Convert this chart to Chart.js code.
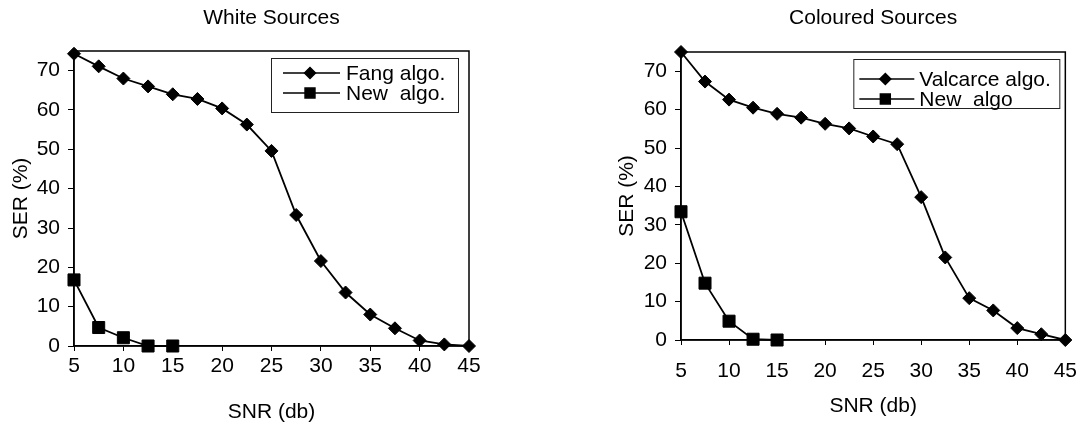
<!DOCTYPE html>
<html>
<head>
<meta charset="utf-8">
<script src="https://cdn.jsdelivr.net/npm/chart.js@4/dist/chart.umd.min.js"></script>
<style>
  html, body { margin: 0; padding: 0; background: #fff; }
  body { width: 1091px; height: 426px; position: relative; overflow: hidden; }
  .wrap { position: absolute; top: 0; height: 426px; }
  #w1 { left: 0; width: 545px; }
  #w2 { left: 560px; width: 531px; }
</style>
</head>
<body>
<div class="wrap" id="w1"><canvas id="c1"></canvas></div>
<div class="wrap" id="w2"><canvas id="c2"></canvas></div>
<script>
// ---- data ----
const snr = [5, 7.5, 10, 12.5, 15, 17.5, 20, 22.5, 25, 27.5, 30, 32.5, 35, 37.5, 40, 42.5, 45];
const snrNew = [5, 7.5, 10, 12.5, 15];
const whiteFang = [74.3, 71.1, 68.0, 66.0, 64.0, 62.8, 60.4, 56.3, 49.6, 33.3, 21.6, 13.6, 8.0, 4.5, 1.4, 0.4, 0];
const whiteNew = [16.8, 4.7, 2.1, 0, 0];
const colouredValcarce = [75, 67.3, 62.6, 60.5, 58.9, 57.9, 56.3, 55.1, 53.0, 51.0, 37.2, 21.5, 10.9, 7.7, 3.1, 1.5, 0];
const colouredNew = [33.4, 14.8, 4.9, 0.2, 0];
const xTicks = [5, 10, 15, 20, 25, 30, 35, 40, 45];
const yTicks = [0, 10, 20, 30, 40, 50, 60, 70];
const titles = ['White Sources', 'Coloured Sources'];
const labelsWhite = ['Fang algo.', 'New  algo.'];
const labelsColoured = ['Valcarce algo.', 'New  algo'];

Chart.defaults.font.family = "'Liberation Sans', Arial, sans-serif";
Chart.defaults.color = '#000';

const FONT = 21;

function pts(xs, ys) { return xs.map((x, i) => ({ x: x, y: ys[i] })); }

// box around the plot area + boxed legend inside it
const framePlugin = {
  id: 'frame',
  afterDatasetsDraw(chart, args, opts) {
    const ctx = chart.ctx, a = chart.chartArea;
    ctx.save();
    ctx.strokeStyle = '#000';
    ctx.lineWidth = 1.5;
    ctx.strokeRect(a.left, a.top, a.right - a.left, a.bottom - a.top);
    // legend
    const L = opts.legend;
    const bx = a.right - L.right - L.width, by = a.top + L.top;
    ctx.fillStyle = '#fff';
    ctx.fillRect(bx, by, L.width, L.height);
    ctx.strokeStyle = '#222';
    ctx.lineWidth = 1;
    ctx.strokeRect(bx + 0.5, by + 0.5, L.width, L.height);
    chart.data.datasets.forEach((ds, i) => {
      const y = by + L.rows[i];
      ctx.strokeStyle = '#000';
      ctx.lineWidth = 1.5;
      ctx.beginPath();
      ctx.moveTo(bx + L.lineFrom, y);
      ctx.lineTo(bx + L.lineTo, y);
      ctx.stroke();
      ctx.fillStyle = '#000';
      Chart.helpers.drawPoint(ctx, {
        pointStyle: ds.pointStyle,
        radius: ds.pointStyle === 'rect' ? 7 : 5.5,
        borderWidth: 1,
        rotation: 0
      }, bx + L.marker, y);
      ctx.fillStyle = '#000';
      ctx.font = FONT + "px 'Liberation Sans', Arial, sans-serif";
      ctx.textBaseline = 'middle';
      ctx.textAlign = 'left';
      ctx.fillText(ds.label, bx + L.text, y + 1);
    });
    ctx.restore();
  }
};

function makeChart(id, title, labels, s1, s2, g) {
  return new Chart(document.getElementById(id), {
    type: 'line',
    data: {
      datasets: [
        { label: labels[0], data: pts(snr, s1), pointStyle: 'rectRot', pointRadius: 6.5,
          borderColor: '#000', backgroundColor: '#000', pointBackgroundColor: '#000',
          pointBorderColor: '#000', borderWidth: 1.8, pointBorderWidth: 1, tension: 0, clip: false },
        { label: labels[1], data: pts(snrNew, s2), pointStyle: 'rect', pointRadius: 8.5,
          borderColor: '#000', backgroundColor: '#000', pointBackgroundColor: '#000',
          pointBorderColor: '#000', borderWidth: 1.8, pointBorderWidth: 1, tension: 0, clip: false }
      ]
    },
    options: {
      responsive: true,
      maintainAspectRatio: false,
      animation: false,
      events: [],
      layout: { padding: { left: 0, right: g.padRight, top: 0, bottom: 0 } },
      plugins: {
        legend: { display: false },
        tooltip: { enabled: false },
        title: {
          display: true, text: title, fullSize: false,
          font: { size: 21, weight: 'normal', lineHeight: 1.2 }, color: '#000',
          padding: { top: 6, bottom: g.titleBottom }
        },
        frame: { legend: g.legend }
      },
      scales: {
        x: {
          type: 'linear', min: 5, max: 45,
          afterBuildTicks: s => { s.ticks = xTicks.map(v => ({ value: v })); },
          afterFit: s => { s.height = g.xHeight; },
          ticks: { font: { size: FONT }, color: '#000', padding: g.xPad, maxRotation: 0, autoSkip: false },
          grid: { drawOnChartArea: false, drawTicks: true, tickLength: 5, color: '#000', lineWidth: 1 },
          border: { display: true, color: '#000', width: 1.5 },
          title: { display: true, text: 'SNR (db)', font: { size: FONT }, color: '#000',
                   padding: { top: 0, bottom: g.xTitleBottom } }
        },
        y: {
          type: 'linear', min: 0, max: 75,
          afterBuildTicks: s => { s.ticks = yTicks.map(v => ({ value: v })); },
          afterFit: s => { s.width = g.yWidth; },
          ticks: { font: { size: FONT }, color: '#000', padding: g.yPad },
          grid: { drawOnChartArea: false, drawTicks: true, tickLength: 6, color: '#000', lineWidth: 1 },
          border: { display: true, color: '#000', width: 1.5 },
          title: { display: true, text: 'SER (%)', font: { size: FONT }, color: '#000',
                   padding: { top: g.yTitleTop, bottom: 0 } }
        }
      }
    },
    plugins: [framePlugin]
  });
}

makeChart('c1', titles[0], labelsWhite, whiteFang, whiteNew, {
  padRight: 76, titleBottom: 19.8, xHeight: 80, xPad: 3, xTitleBottom: 1,
  yWidth: 74, yPad: 8, yTitleTop: 9,
  legend: { right: 11, top: 7, width: 187, height: 54, rows: [15, 35],
            lineFrom: 12, lineTo: 69, marker: 39, text: 75 }
});
makeChart('c2', titles[1], labelsColoured, colouredValcarce, colouredNew, {
  padRight: 18, titleBottom: 20.8, xHeight: 86, xPad: 14, xTitleBottom: 7,
  yWidth: 121, yPad: 8, yTitleTop: 55,
  legend: { right: 6, top: 7, width: 206, height: 49, rows: [20, 40],
            lineFrom: 6, lineTo: 61, marker: 32, text: 66 }
});
</script>
</body>
</html>
